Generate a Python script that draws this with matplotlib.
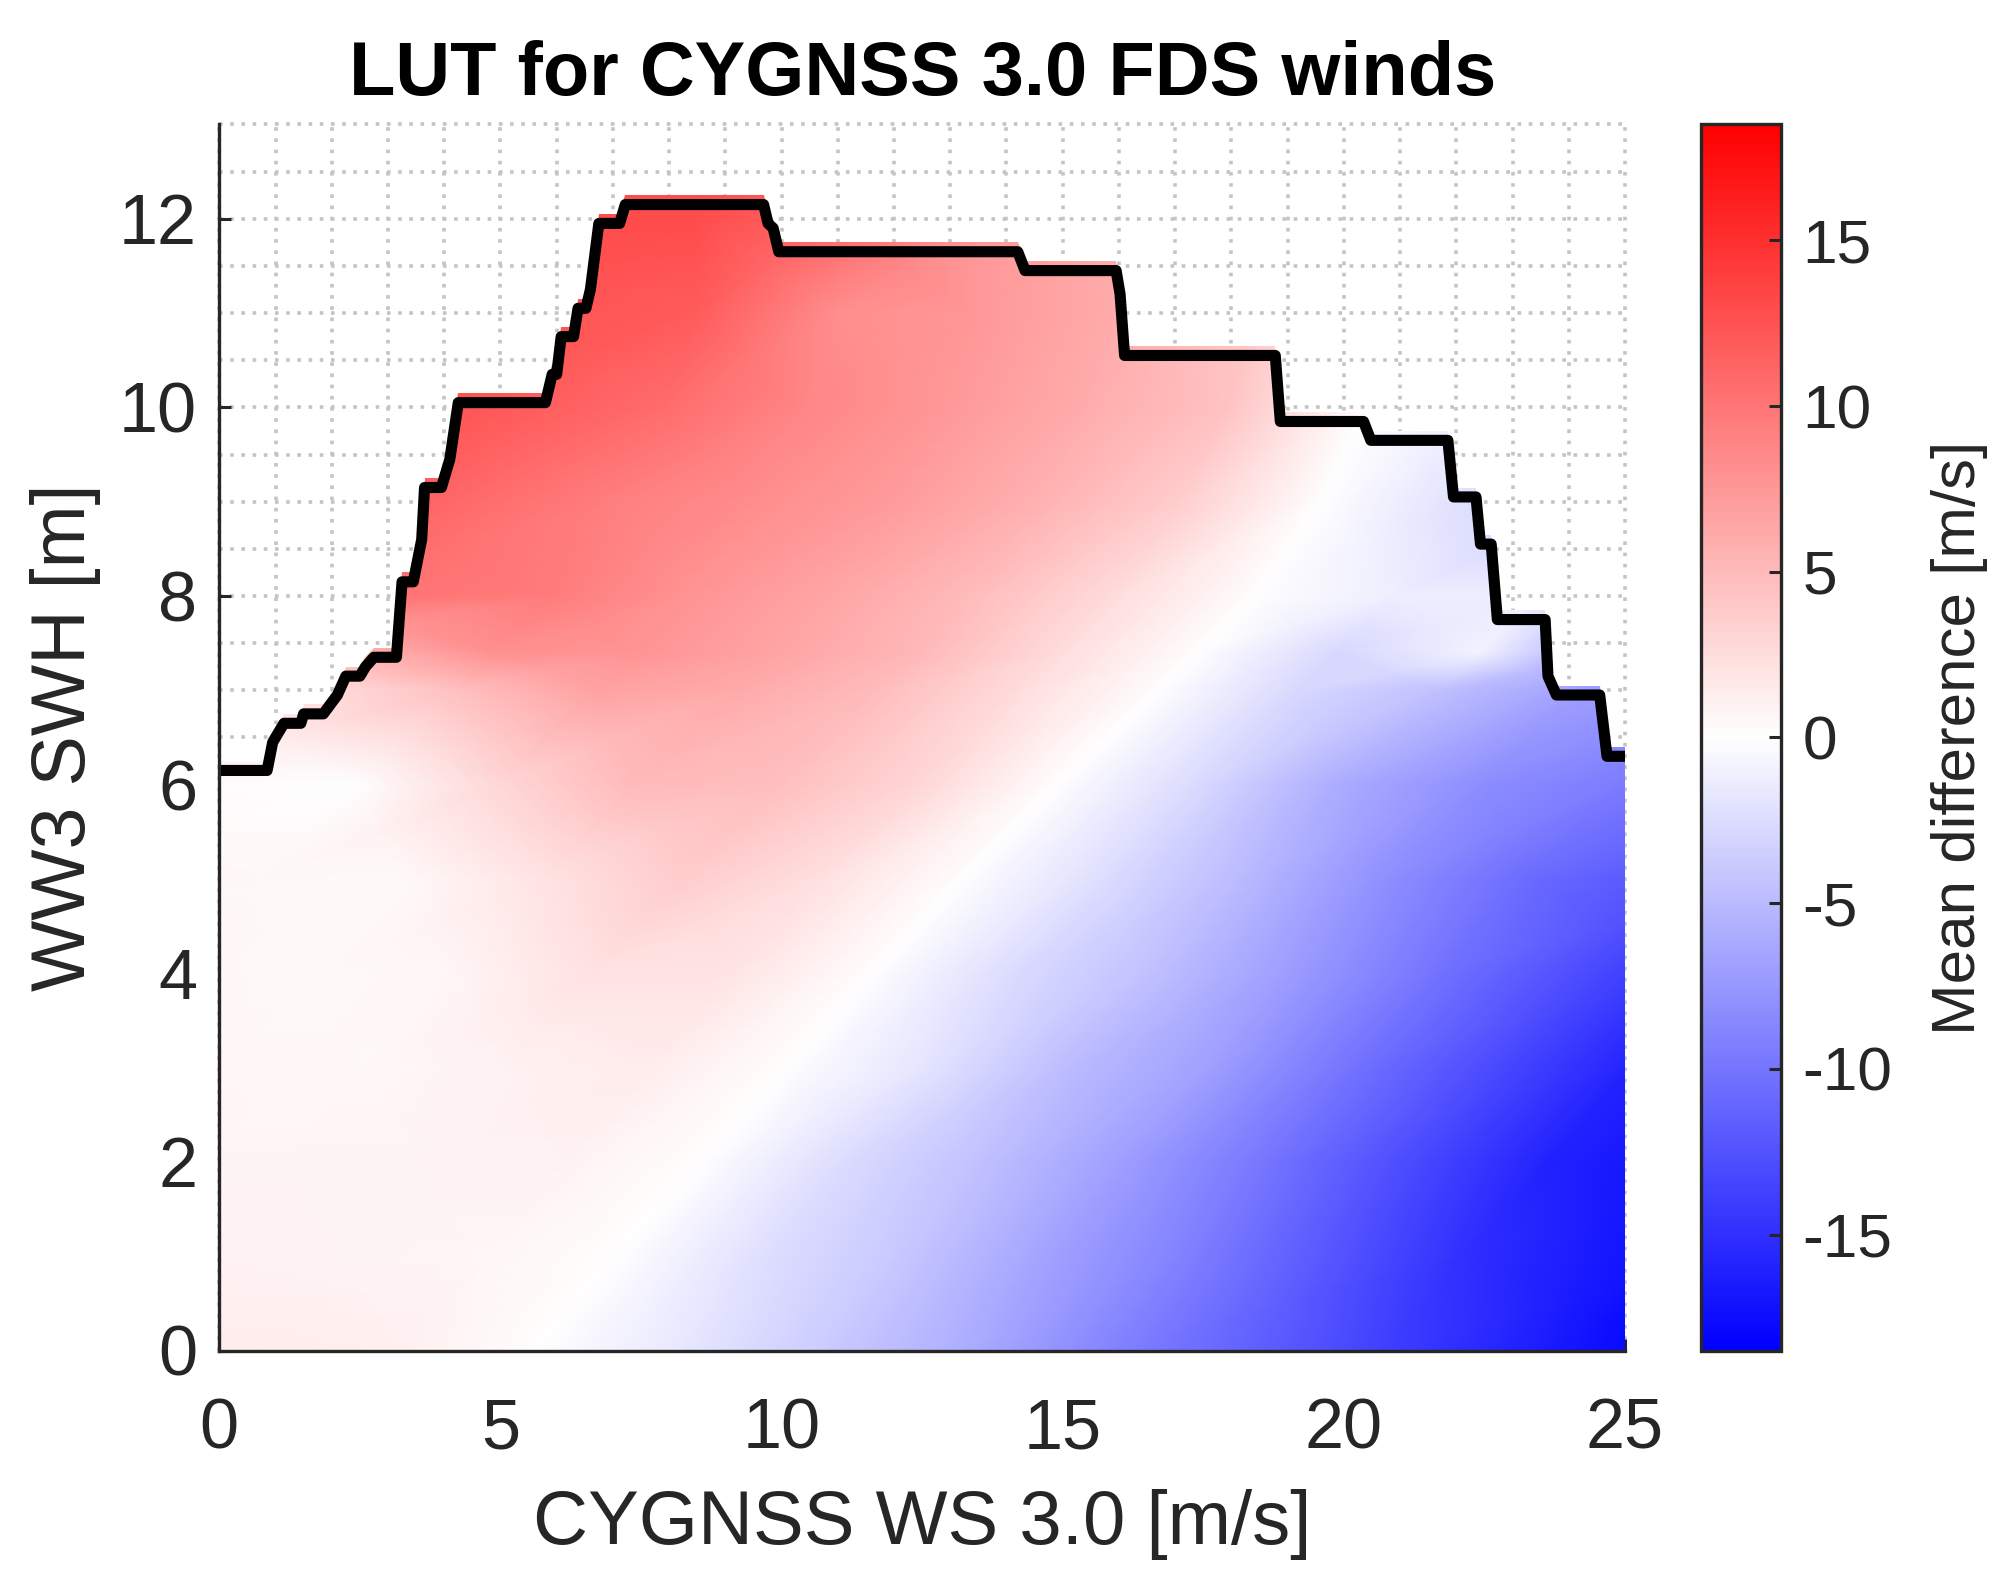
import numpy as np
import matplotlib
matplotlib.use("Agg")
import matplotlib.pyplot as plt
from matplotlib.colors import LinearSegmentedColormap
from matplotlib.patches import Polygon
from matplotlib.ticker import MultipleLocator

plt.rcParams['font.family'] = ['Liberation Sans', 'DejaVu Sans']
plt.rcParams['axes.unicode_minus'] = False

# Look-up table: per SWH level, the wind speed where the difference is zero,
# and the difference read at wind-speed offsets from that zero crossing.
swh_nodes = [0, 1, 2, 3, 4, 5, 6, 7, 7.4, 8, 9, 10, 11, 12, 13]
zero_ws = [5.7, 7.1, 8.6, 10.1, 11.6, 13.2, 14.9, 16.7, 17.4, 18.4, 19.6, 20.4, 21.0, 21.0, 21.0]
ws_offsets = [-25, -17.5, -12.5, -10, -7.5, -5, -2.5, 0, 2.5, 5, 7.5, 10, 15, 20]
row_0 = [1.4, 1.4, 1.4, 1.4, 1.4, 1.4, 1.1, 0, -1.7, -3.7, -5.8, -8.8, -13.8, -19.0]
row_1 = [1.0, 1.0, 1.0, 1.0, 1.0, 0.85, 0.7, 0, -2.2, -4.0, -6.6, -9.0, -15.0, -20.5]
row_2 = [0.8, 0.8, 0.8, 0.8, 0.75, 0.8, 0.9, 0, -2.5, -4.6, -7.0, -9.9, -16.0, -21.0]
row_3 = [0.7, 0.7, 0.7, 0.7, 0.5, 1.0, 1.4, 0, -2.0, -4.8, -6.9, -10.0, -16.0, -20.0]
row_4 = [0.6, 0.6, 0.6, 0.35, 0.6, 2.1, 1.9, 0, -2.6, -4.5, -7.1, -10.0, -15.5, -20.0]
row_5 = [0.6, 0.6, 0.5, 0.3, 2.0, 3.7, 2.3, 0, -2.4, -5.0, -8.0, -10.6, -14.0, -17.0]
row_6 = [0.4, 0.4, -0.1, 2.8, 5.0, 4.7, 3.0, 0, -2.7, -6.0, -8.2, -9.5, -12.0, -14.0]
row_7 = [0.3, 0.3, 4.5, 6.7, 6.2, 4.9, 2.5, 0, -2.8, -4.5, -6.8, -8.0, -10.0, -12.0]
row_7b = [3.0, 3.0, 8.0, 7.7, 6.6, 5.2, 2.6, 0, -2.8, -1.0, -7.0, -8.0, -10.0, -12.0]
row_8 = [10.0, 10.5, 9.5, 7.8, 6.4, 4.9, 2.6, 0, -1.2, -1.2, -6.5, -8.0, -10.0, -12.0]
row_9 = [12.0, 12.0, 9.2, 8.1, 7.1, 5.6, 3.5, 0, -2.3, -5.5, -7.0, -8.0, -10.0, -12.0]
row_10 = [13.0, 13.0, 10.6, 8.8, 7.4, 6.0, 4.4, 0, -1.5, -5.0, -7.0, -8.0, -10.0, -12.0]
row_11 = [13.0, 13.0, 11.8, 8.2, 7.4, 6.0, 4.0, 0, -2.0, -5.0, -7.0, -8.0, -10.0, -12.0]
row_12 = [13.0, 13.0, 13.0, 11.0, 7.4, 6.0, 4.0, 0, -2.0, -5.0, -7.0, -8.0, -10.0, -12.0]
row_13 = [13.0, 13.0, 13.0, 11.0, 7.4, 6.0, 4.0, 0, -2.0, -5.0, -7.0, -8.0, -10.0, -12.0]
lut_rows = [row_0, row_1, row_2, row_3, row_4, row_5, row_6, row_7, row_7b,
            row_8, row_9, row_10, row_11, row_12, row_13]

# Black envelope
env_ws = [0, 0.85, 0.95, 1.15, 1.45, 1.5, 1.85, 2.1, 2.25, 2.5, 2.6, 2.75, 3.15, 3.25,
          3.45, 3.6, 3.65, 3.95, 4.1, 4.25, 5.8, 5.92, 6.0, 6.08, 6.3, 6.38, 6.52, 6.6,
          6.75, 7.12, 7.22, 9.68, 9.76, 9.85, 9.95, 14.2, 14.33, 15.95, 16.02, 16.1, 18.78,
          18.87, 20.35, 20.48, 21.85, 21.95, 22.35, 22.43, 22.62, 22.73, 23.58, 23.63,
          23.78, 24.55, 24.68, 25]
env_swh = [6.15, 6.15, 6.45, 6.65, 6.65, 6.75, 6.75, 6.95, 7.15, 7.15, 7.25, 7.35, 7.35,
           8.15, 8.15, 8.6, 9.15, 9.15, 9.45, 10.05, 10.05, 10.35, 10.35, 10.75, 10.75,
           11.05, 11.05, 11.25, 11.95, 11.95, 12.15, 12.15, 11.95, 11.9, 11.65, 11.65,
           11.45, 11.45, 11.2, 10.55, 10.55, 9.85, 9.85, 9.65, 9.65, 9.05, 9.05, 8.55,
           8.55, 7.75, 7.75, 7.15, 6.95, 6.95, 6.3, 6.3]

x_ticks = [0, 5, 10, 15, 20, 25]
y_ticks = [0, 2, 4, 6, 8, 10, 12]
cbar_ticks = [-15, -10, -5, 0, 5, 10, 15]
color_limit = 18.5

dark = '#262626'
W, H = 2011, 1582
fig = plt.figure(figsize=(W / 200, H / 200), dpi=200)
ax = fig.add_axes([219.3 / W, 1 - 1350.5 / H, (1625 - 219.3) / W, (1350.5 - 124.4) / H])
cax = fig.add_axes([1700.6 / W, 1 - 1350.5 / H, (1781.4 - 1700.6) / W, (1350.5 - 124.4) / H])

cmap = LinearSegmentedColormap.from_list('bwr_lut', ['#0000ff', '#ffffff', '#ff0000'], N=256)
ax.set_axisbelow(True)
X = np.array(zero_ws)[:, None] + np.array(ws_offsets)[None, :]
Y = np.tile(np.array(swh_nodes)[:, None], (1, len(ws_offsets)))
mesh = ax.pcolormesh(X, Y, np.array(lut_rows), shading='gouraud',
                     cmap=cmap, vmin=-color_limit, vmax=color_limit, zorder=2)

# Cells reach a little above the drawn envelope
verts = [(0, 0)] + [(x, y + 0.1) for x, y in zip(env_ws, env_swh)] + [(25, 0)]
clip = Polygon(verts, closed=True, transform=ax.transData, facecolor='none', edgecolor='none')
ax.add_patch(clip)
mesh.set_clip_path(clip)

ax.plot(env_ws, env_swh, color='black', lw=4.0, solid_joinstyle='round',
        solid_capstyle='butt', zorder=3, clip_on=True)

ax.set_xlim(0, 25)
ax.set_ylim(0, 13)
ax.set_xticks(x_ticks)
ax.set_yticks(y_ticks)
ax.xaxis.set_minor_locator(MultipleLocator(1))
ax.yaxis.set_minor_locator(MultipleLocator(0.5))
ax.grid(True, which='both', color='#c4c4c4', lw=1.3, linestyle=(0, (1, 2.1)), zorder=1, clip_on=False)
ax.tick_params(axis='both', which='major', direction='in', length=4.2, width=1.1, color=dark,
               labelcolor=dark, labelsize=25.3)
ax.tick_params(axis='x', which='major', pad=17)
ax.tick_params(axis='y', which='major', pad=8)
ax.tick_params(axis='both', which='minor', length=0)
for s in ('top', 'right'):
    ax.spines[s].set_visible(False)
for s in ('left', 'bottom'):
    ax.spines[s].set_linewidth(1.2)
    ax.spines[s].set_color(dark)
    ax.spines[s].set_zorder(5)

ax.set_xlabel('CYGNSS WS 3.0 [m/s]', fontsize=27.4, color=dark, labelpad=9)
ax.set_ylabel('WW3 SWH [m]', fontsize=27.2, color=dark, labelpad=6.5)
ax.set_title('LUT for CYGNSS 3.0 FDS winds', fontsize=27.3, fontweight='bold', color='black', pad=10.5)

sm = plt.cm.ScalarMappable(norm=mesh.norm, cmap=cmap)
cb = fig.colorbar(sm, cax=cax, ticks=cbar_ticks)
cb.outline.set_linewidth(1.2)
cb.outline.set_edgecolor(dark)
cax.tick_params(direction='in', length=4.2, width=1.1, color=dark, labelcolor=dark, labelsize=22.4, pad=7.5)
cb.set_label('Mean difference [m/s]', fontsize=22.3, color=dark, labelpad=14)

fig.savefig('out.png', dpi=200)
